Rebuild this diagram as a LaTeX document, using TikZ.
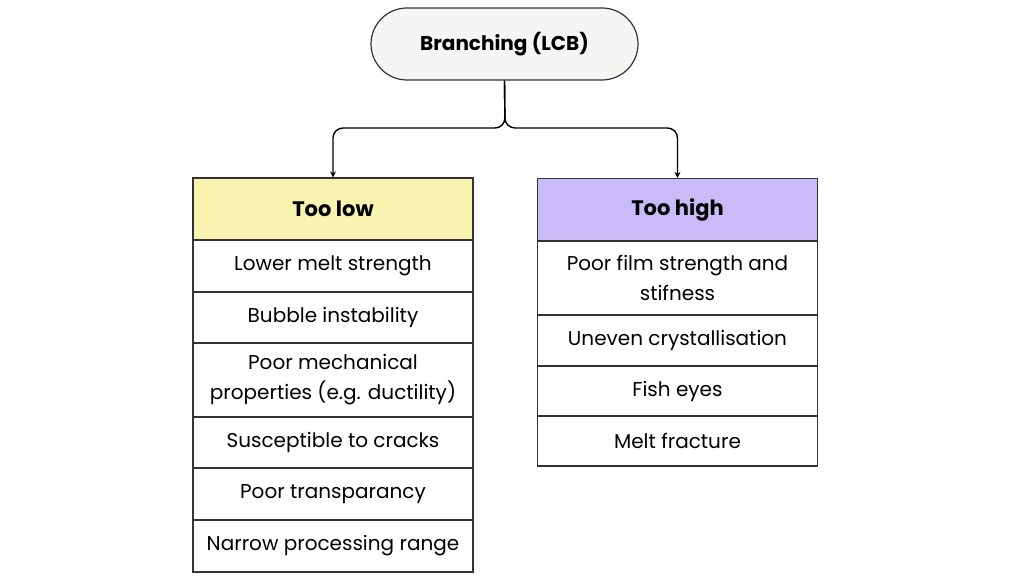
\documentclass[tikz,border=0pt]{standalone}
\usepackage{fontspec}
\setmainfont{Poppins}
\usetikzlibrary{arrows.meta}
\definecolor{pillfill}{HTML}{F5F5F3}
\definecolor{lowfill}{HTML}{F8F3AE}
\definecolor{highfill}{HTML}{C8BBF8}
\definecolor{edge}{HTML}{333333}

\begin{document}
\begin{tikzpicture}[x=0.5pt,y=-0.5pt,>={Stealth[length=3pt,width=3pt]},
cella/.style={ rectangle,draw=edge,line width=0.6pt,minimum width=140pt,inner sep=0pt,align=center,font=\fontsize{10}{15}\selectfont
},
fejlec/.style={cella,font=\fontsize{10.5}{13}\selectfont\bfseries,minimum height=31pt}]

\useasboundingbox (0,0) rectangle (1024,576);

\node[rectangle,rounded corners=18pt,draw=edge,line width=0.6pt,fill=pillfill,minimum width=133.5pt,minimum height=36pt,font=\fontsize{10}{12}\selectfont\bfseries](gyoker) at (504.5,44){Branching (LCB)};

% bal oldal
\node[fejlec,fill=lowfill](alacsony) at (333,209){Too low};
\node[cella,minimum height=26pt](a1) at (333,266){Lower melt strength};
\node[cella,minimum height=25.5pt](a2) at (333,317.5){Bubble instability};
\node[cella,minimum height=37pt](a3) at (333,380){Poor mechanical\\properties (e.g. ductility)};
\node[cella,minimum height=25.5pt](a4) at (333,442.5){Susceptible to cracks};
\node[cella,minimum height=26pt](a5) at (333,494){Poor transparancy};
\node[cella,minimum height=26pt](a6) at (333,546){Narrow processing range};

% jobb oldal
\node[fejlec,fill=highfill](magas) at (677.5,209.5){Too high};
\node[cella,minimum height=37pt](b1) at (677.5,278){Poor film strength and\\stifness};
\node[cella,minimum height=25.5pt](b2) at (677.5,340.5){Uneven crystallisation};
\node[cella,minimum height=25pt](b3) at (677.5,391){Fish eyes};
\node[cella,minimum height=25pt](b4) at (677.5,441){Melt fracture};

\coordinate(elagazas) at (505,128);
\begin{scope}[->, line width=0.7pt, draw=black, rounded corners=5pt]
\draw (gyoker.south)--(elagazas)-|(alacsony.north);
\draw (gyoker.south)--(elagazas)-|(magas.north);
\end{scope}

\end{tikzpicture}
\end{document}
